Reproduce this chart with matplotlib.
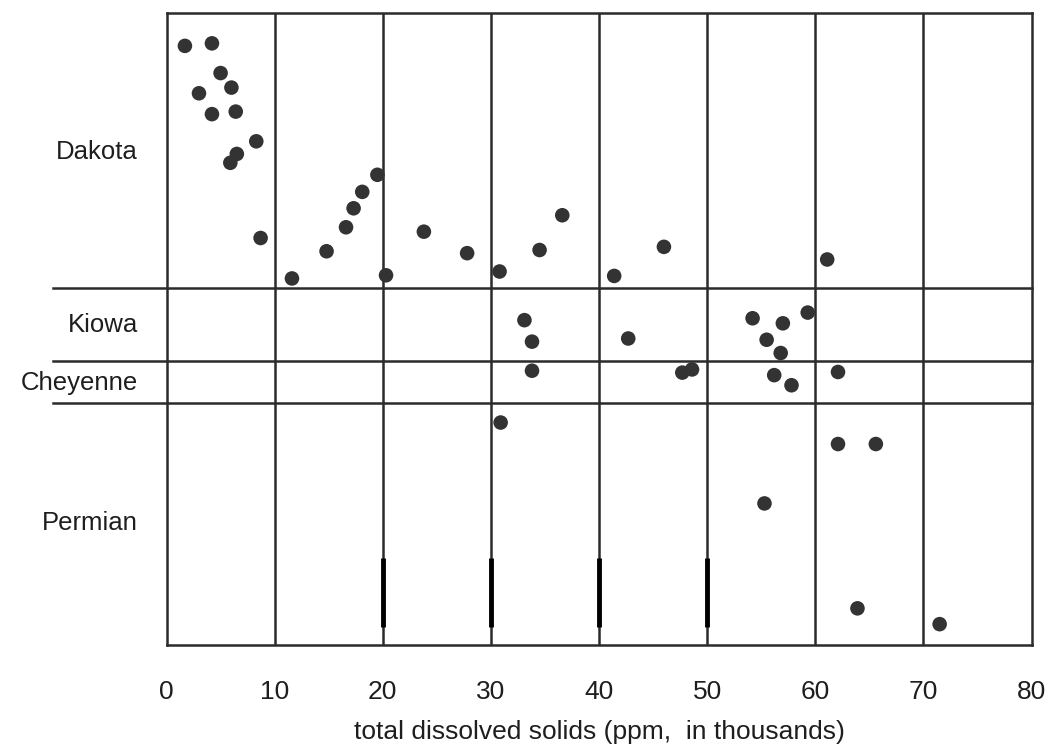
import numpy as np
import matplotlib
matplotlib.use('Agg')
import matplotlib.pyplot as plt
from matplotlib.transforms import blended_transform_factory

plt.rcParams['font.family'] = ['Liberation Sans', 'DejaVu Sans']

# total dissolved solids (thousands of ppm) and vertical position inside each formation band
dakota_tds = [1.7, 4.2, 5.0, 6.0, 3.0, 4.2, 6.4, 8.3, 6.5, 5.9, 8.7, 11.6, 14.8, 16.6,
              17.3, 18.1, 19.5, 20.3, 23.8, 27.8, 30.8, 34.5, 36.6, 41.4, 46.0, 61.1]
dakota_pos = [94.8, 95.2, 90.5, 88.2, 87.3, 84.0, 84.4, 79.7, 77.7, 76.3, 64.4, 58.0, 62.3, 66.1,
              69.1, 71.7, 74.4, 58.5, 65.4, 62.0, 59.1, 62.5, 68.0, 58.4, 63.0, 61.0]
kiowa_tds = [33.1, 33.8, 42.7, 54.2, 57.0, 55.5, 56.8, 59.3]
kiowa_pos = [51.4, 48.0, 48.5, 51.7, 50.9, 48.3, 46.2, 52.6]
cheyenne_tds = [33.8, 47.7, 48.6, 56.2, 57.8, 62.1]
cheyenne_pos = [43.4, 43.1, 43.6, 42.7, 41.1, 43.2]
permian_tds = [30.9, 62.1, 65.6, 55.3, 63.9, 71.5]
permian_pos = [35.2, 31.8, 31.8, 22.4, 5.8, 3.3]

formations = ['Dakota', 'Kiowa', 'Cheyenne', 'Permian']
label_pos = [78.0, 50.6, 41.5, 19.3]
band_edges = [56.5, 45.0, 38.3]
xticks = [0, 10, 20, 30, 40, 50, 60, 70, 80]
marked_ticks = [20, 30, 40, 50]

ink = '#2b2b2b'

fig = plt.figure(figsize=(10.54, 7.48), dpi=100)
ax = fig.add_axes([0.158, 0.1377, 0.8207, 0.8449])
ax.set_xlim(0, 80)
ax.set_ylim(0, 100)

# grid of vertical lines at every 10
for x in xticks[1:-1]:
    ax.axvline(x, color=ink, lw=1.8, zorder=1)

# heavier marks near the bottom
ax.vlines(marked_ticks, 2.85, 13.8, color='black', lw=3.5, zorder=2)

# formation boundaries, running out into the label area
trans = blended_transform_factory(ax.transAxes, ax.transData)
for y in band_edges:
    ax.plot([-0.131, 1], [y, y], color=ink, lw=1.8, transform=trans, clip_on=False, zorder=1)

for name, y in zip(formations, label_pos):
    ax.text(-0.033, y, name, transform=trans, ha='right', va='center', fontsize=18.5, color='#1e1e1e')

# data points
all_x = dakota_tds + kiowa_tds + cheyenne_tds + permian_tds
all_y = dakota_pos + kiowa_pos + cheyenne_pos + permian_pos
ax.scatter(all_x, all_y, s=110, color='#333333', edgecolors='none', zorder=3)

for side in ax.spines.values():
    side.set_color(ink)
    side.set_linewidth(1.8)

ax.set_yticks([])
ax.set_xticks(xticks)
ax.set_xticklabels([str(t) for t in xticks], fontsize=19, color='#1e1e1e')
ax.tick_params(axis='x', length=0, pad=25)
ax.set_xlabel('total dissolved solids (ppm,  in thousands)', fontsize=19, color='#1e1e1e', labelpad=12)

plt.savefig('out.png', dpi=100)
